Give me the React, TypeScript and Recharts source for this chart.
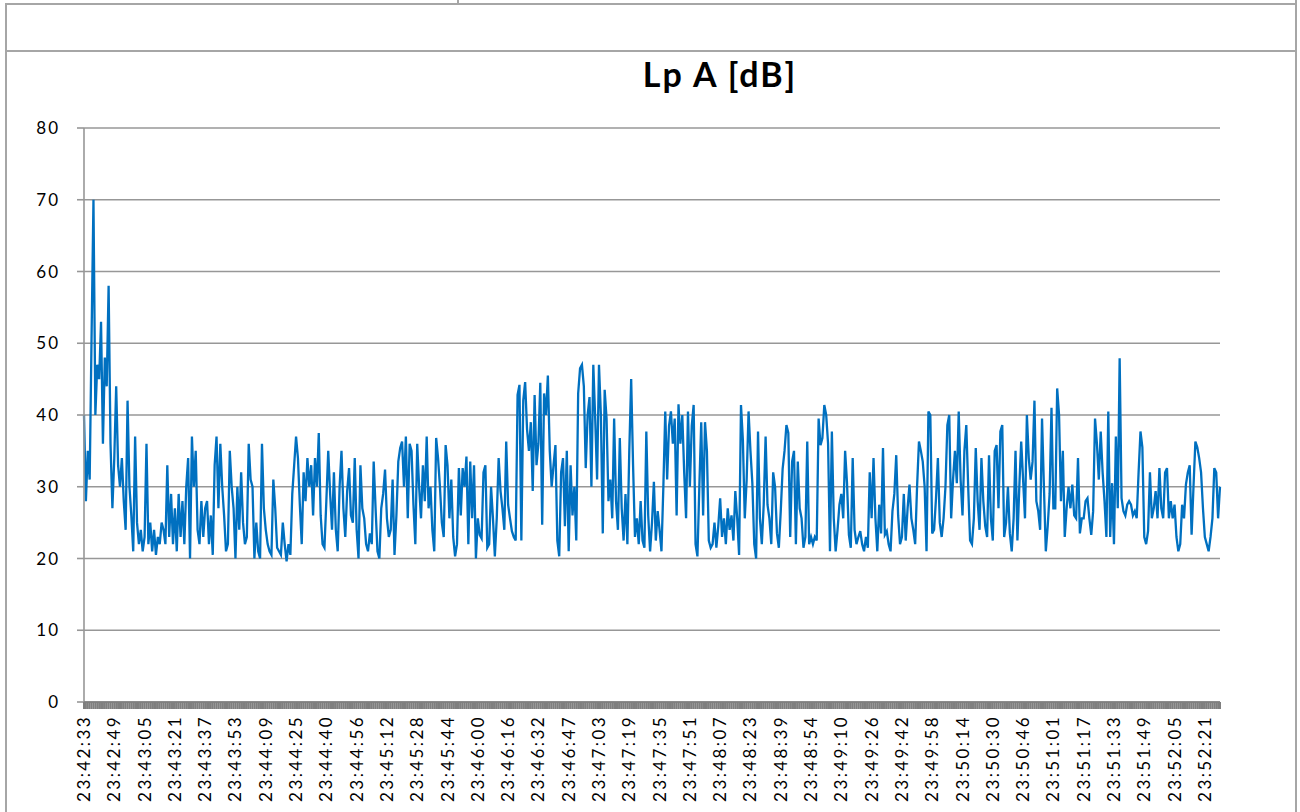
import React from "react";
import { CartesianGrid, Line, LineChart, XAxis, YAxis } from "recharts";

// tick labels on the time axis, one every 16 samples
const TIME_LABELS = [
  "23:42:33", "23:42:49", "23:43:05", "23:43:21", "23:43:37", "23:43:53", "23:44:09", "23:44:25",
  "23:44:40", "23:44:56", "23:45:12", "23:45:28", "23:45:44", "23:46:00", "23:46:16", "23:46:32",
  "23:46:47", "23:47:03", "23:47:19", "23:47:35", "23:47:51", "23:48:07", "23:48:23", "23:48:39",
  "23:48:54", "23:49:10", "23:49:26", "23:49:42", "23:49:58", "23:50:14", "23:50:30", "23:50:46",
  "23:51:01", "23:51:17", "23:51:33", "23:51:49", "23:52:05", "23:52:21",
];
const LABEL_STEP = 16;

const Y_TICKS = [0, 10, 20, 30, 40, 50, 60, 70, 80];

// Lp A [dB], one reading per sample
const LEVELS = [
  40, 28, 35, 31, 51, 70, 40, 47, 45, 53, 36, 48, 44, 58, 36, 27, 34, 44, 33, 30,
  34, 28, 24, 42, 30, 26, 21, 37, 25, 22, 24, 21, 23, 36, 22, 25, 21, 24, 20.5, 23,
  22, 25, 24, 22, 33, 23, 29, 22, 27, 21, 29, 23, 28, 22, 30, 34, 20, 37, 30, 35,
  24, 22, 28, 23, 27, 28, 22, 26, 20.5, 33, 37, 27, 36, 30, 26, 21, 22, 35, 30, 27,
  20, 30, 24, 32, 25, 22, 23, 36, 31, 30, 20, 25, 21, 20, 36, 27, 24, 22, 21, 20.5,
  31, 27, 21.5, 21, 20.5, 25, 22, 19.6, 22, 20.5, 29, 33, 37, 34, 27.5, 22, 32, 28, 34, 30,
  33, 26, 34, 30, 37.5, 26, 22, 21.5, 28, 35, 29, 24, 32, 24, 21, 30, 35, 27, 23, 29.4,
  32.6, 26, 25, 34, 24, 20, 33, 27, 25.6, 22, 21, 23.5, 22, 33.5, 27, 21, 20, 27, 29, 32.4,
  25.6, 23, 24, 31, 20.5, 26, 33.5, 35.4, 36.3, 30, 37, 25.6, 36, 35, 27.5, 22, 36, 30, 25.6, 33,
  28, 37, 27, 30, 24, 21, 36.8, 34, 30, 25, 23, 35.8, 33, 25.6, 31, 23, 20.3, 22, 32.6, 26,
  32.6, 30, 34.2, 22, 33.5, 25.6, 33, 20, 25.6, 23.3, 22.8, 32, 33, 21.5, 22, 30, 25.6, 20.3, 25.6, 34,
  29.4, 27, 24, 36.3, 27.5, 25.6, 23.8, 23, 22.5, 42.8, 44.2, 22.5, 42, 44.6, 38, 35, 39, 29.4, 42.8, 33,
  36, 44.5, 24.7, 43, 40, 45.5, 35, 30, 33, 35.8, 22.5, 20.3, 32, 34, 24.5, 35, 21, 33, 26, 30,
  22.5, 43, 46.5, 47, 44, 32.6, 40, 42.5, 30, 47, 39.5, 31, 47, 40, 23.5, 43.5, 39.5, 28, 31, 25.6,
  39.5, 28, 24, 36.8, 27, 22.5, 29, 22, 35, 45, 33, 23, 25.6, 22, 28, 22.5, 21.5, 37.7, 26, 21,
  25, 30.7, 22.5, 26.6, 24, 21, 30, 40.5, 31, 38.5, 40.5, 36, 39.5, 26, 41.5, 36, 40, 32, 25.6, 40.5,
  30, 38.5, 41.4, 22, 20.3, 30, 39, 26, 39, 35, 22.5, 21.5, 22, 25, 21.5, 24.5, 28.4, 23, 25.6, 22,
  27, 24, 26, 22.5, 29.4, 25.6, 20.5, 41.4, 36.5, 25.6, 31, 40.5, 35, 30.5, 22, 20, 37.7, 25.6, 22, 27.5,
  37, 27.5, 25.6, 22, 32, 30, 23.5, 21.5, 26.6, 32.5, 35, 38.6, 37.5, 23, 33.5, 35, 22, 33.5, 27, 25.6,
  21.5, 23, 36.3, 22, 23, 22, 23, 22.5, 39.5, 35.8, 36.8, 41.4, 40, 36, 21, 37.7, 25.6, 21, 24, 27.5,
  29, 25.6, 35, 30.5, 23.3, 21.5, 34, 24, 22, 23, 23.8, 22, 21, 23, 21.5, 32, 25.6, 34, 25.6, 21,
  27.5, 23.5, 35.4, 23.3, 23.8, 22, 21, 26.6, 29, 34.4, 26, 22, 23, 29, 22.5, 27, 30.3, 25.6, 24, 22,
  30, 36.3, 35, 33.5, 30, 21, 40.5, 40, 23.5, 24, 28.4, 34, 25, 23, 25.6, 30, 38.6, 40, 25.6, 31,
  35, 30.5, 40.5, 31, 26, 35, 38.6, 30, 22.5, 22, 25.6, 35.4, 28, 24, 34, 28, 24.5, 23, 34.4, 25.6,
  22.5, 35, 35.8, 27, 37.7, 38.6, 23, 25, 30, 23.5, 21, 25.6, 35, 22.5, 30, 36.3, 31, 25.6, 40, 34,
  31, 33.5, 42, 28, 26.6, 24, 39.5, 30, 21, 24.5, 29, 41, 27, 27, 43.7, 40, 28, 35, 23, 27,
  30, 27, 30.3, 26, 25.6, 34, 23.5, 25.6, 25.6, 28, 28.4, 25.6, 23.3, 26.6, 39.5, 36, 31, 37.7, 32, 28,
  23, 40.5, 23, 30.5, 22, 37, 27, 47.9, 28.4, 26.6, 26, 27.5, 28, 27.5, 26, 26.6, 25.6, 32, 37.7, 35.5,
  23, 22, 23.8, 32, 25.6, 27, 29.4, 25.6, 32.6, 27, 25.6, 32, 32.6, 25.6, 28, 25.6, 27.5, 23, 21, 22,
  27.5, 25.6, 30.3, 32, 33, 23.3, 30, 36.3, 35.5, 34, 32, 27, 23, 22, 21, 23, 25.6, 32.6, 32, 25.6,
  30,
];

const rows = LEVELS.map((v, i) => ({ i, v }));
const sampleTicks = LEVELS.map((_, i) => i);

const FONT = "Lato, 'Open Sans', sans-serif";
const FRAME = "#a6a6a6";
const GRID = "#979797";
const BAND = "#7f7f7f";

function TimeTick({ x, y, payload }: any) {
  const idx = payload.value;
  if (idx % LABEL_STEP !== 0) return null;
  const label = TIME_LABELS[idx / LABEL_STEP];
  if (!label) return null;
  return (
    <text
      x={x}
      y={y}
      transform={`rotate(-90 ${x} ${y})`}
      textAnchor="end"
      dy={6}
      fontFamily={FONT}
      fontSize={17}
      letterSpacing={2.4}
      fill="#000"
    >
      {label}
    </text>
  );
}

export default function App() {
  return (
    <div
      style={{
        position: "absolute",
        left: 0,
        top: 0,
        width: 1300,
        height: 812,
        overflow: "hidden",
        background: "#fff",
      }}
    >
      {/* sheet frame */}
      <div style={{ position: "absolute", left: 5, top: 3, width: 1291, height: 2, background: FRAME }} />
      <div style={{ position: "absolute", left: 457, top: 0, width: 2, height: 4, background: FRAME }} />
      <div style={{ position: "absolute", left: 5, top: 3, width: 2, height: 809, background: FRAME }} />
      <div style={{ position: "absolute", left: 1295, top: 0, width: 2, height: 812, background: FRAME }} />
      <div style={{ position: "absolute", left: 5, top: 50, width: 1291, height: 2, background: FRAME }} />

      <div
        style={{
          position: "absolute",
          left: 520,
          top: 53,
          width: 400,
          textAlign: "center",
          fontFamily: FONT,
          fontWeight: 700,
          fontSize: 34,
          letterSpacing: 2,
          color: "#000",
        }}
      >
        Lp A [dB]
      </div>

      <div style={{ position: "absolute", left: 0, top: 0 }}>
        <LineChart width={1300} height={812} data={rows} margin={{ top: 128, right: 80, bottom: 0, left: 0 }}>
          <CartesianGrid vertical={false} stroke={GRID} strokeWidth={1.6} />
          <YAxis
            type="number"
            domain={[0, 80]}
            ticks={Y_TICKS}
            interval={0}
            width={84}
            tickSize={7}
            tickMargin={17}
            axisLine={{ stroke: GRID, strokeWidth: 1.6 }}
            tickLine={{ stroke: GRID, strokeWidth: 1.6 }}
            tick={{ fill: "#000", fontSize: 17, fontFamily: FONT, letterSpacing: 2 }}
          />
          <XAxis
            type="number"
            dataKey="i"
            domain={[0, LEVELS.length - 1]}
            ticks={sampleTicks}
            interval={0}
            height={110}
            tickSize={7}
            tickMargin={6}
            axisLine={{ stroke: BAND, strokeWidth: 1.6 }}
            tickLine={{ stroke: BAND, strokeWidth: 2 }}
            tick={<TimeTick />}
          />
          <Line
            type="linear"
            dataKey="v"
            stroke="#0070C0"
            strokeWidth={2.3}
            dot={false}
            isAnimationActive={false}
          />
        </LineChart>
      </div>
    </div>
  );
}
